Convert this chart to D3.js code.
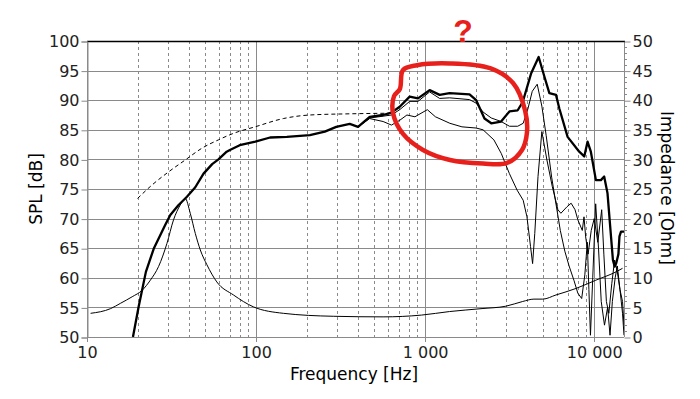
<!DOCTYPE html>
<html>
<head>
<meta charset="utf-8">
<script src="https://cdn.jsdelivr.net/npm/d3@7"></script>
<style>
	body { margin: 0; background: #fff; }
	svg { display: block; }
	.tickLabel text { font-family: "DejaVu Sans", Verdana, sans-serif; font-size: 16px; fill: #222; }
	.axisTitle { font-family: "DejaVu Sans", Verdana, sans-serif; font-size: 17px; fill: #000; }
</style>
</head>
<body>
<svg id="SvgSpl"></svg>
<script>
// ----------------------------------------------------------  Data -----------------------------------------------------------------------  //
// #region data

	// ------ Axis ticks
	var splTicks = [50, 55, 60, 65, 70, 75, 80, 85, 90, 95, 100];
	var ohmTicks = [0, 5, 10, 15, 20, 25, 30, 35, 40, 45, 50];
	var freqDecades = [10, 100, 1000, 10000];
	var freqLabels = ["10", "100", "1 000", "10 000"];

	// ------ Main SPL curve (thick) : Hz, dB
	var freqMain = [18.7, 20.2, 22.3, 24.8, 29, 31.1, 34.8, 39, 43.7, 48.9, 55, 59.9, 67, 70, 80, 99, 121, 152, 208, 255, 298, 358,
		401, 470, 564, 632, 707, 810, 907, 1063, 1218, 1395, 1830, 2004, 2244, 2460, 2813, 3152, 3527, 3776, 4231, 4692,
		5070, 5427, 5943, 6217, 6960, 8154, 8730, 9130, 9550, 10230, 10950, 11450, 11980, 12400, 12900, 13200, 13500, 13900, 14100, 14400, 15000];
	var splMain = [50, 55.1, 61, 64.9, 68.9, 70.6, 72.3, 73.7, 75.3, 77.6, 79.2, 80, 81.3, 81.6, 82.4, 83, 83.7, 83.8, 84.1, 84.7, 85.5, 86,
		85.5, 87.2, 87.5, 87.9, 88.9, 90.6, 90.3, 91.7, 90.9, 91.2, 91, 90, 86.9, 86.1, 86.4, 88.1, 88.3, 89.7, 94.5, 97.3,
		94, 91.2, 90.9, 88.6, 83.8, 81.3, 80.5, 83, 81.3, 76.5, 76.5, 77.1, 74.3, 69, 63, 61.9, 62.5, 64, 67, 67.8, 67.8];

	// ------ Second SPL curve (thin, close to main)
	var freqB = [401, 470, 564, 632, 707, 810, 907, 1063, 1218, 1395, 1830, 2004, 2200, 2460, 2813, 3152, 3527, 3800, 4050, 4300, 4600,
		4900, 5200, 5600, 5900, 6300, 6700, 7100, 7600, 8000, 8430, 8800, 9100, 9300, 9500, 9800, 10200, 10600, 11000, 11500,
		12000, 12400, 12800, 13300, 13700, 14200, 14700, 15000];
	var splB = [85.5, 87, 87.3, 87.5, 88.4, 89.8, 89.8, 91.4, 90.3, 90.4, 90.1, 89.5, 88, 87, 86.4, 85.6, 85.6, 86.1, 88.5, 91.5, 92.7,
		89, 84, 77, 73, 68, 64.5, 62, 59.5, 57.4, 56.5, 60.5, 66, 58, 50.3, 60, 72.5, 65, 56, 52,
		55, 50.3, 56, 60, 62, 58, 54, 50.3];

	// ------ Third SPL curve (thin, lower)
	var freqC = [401, 470, 564, 632, 707, 780, 870, 1030, 1150, 1400, 1650, 2000, 2200, 2550, 2820, 3150, 3500, 3800, 4000, 4200, 4320,
		4450, 4650, 4900, 5250, 5650, 6100, 6350, 6900, 7300, 7700, 8000, 8500, 8700, 8900, 9200, 9600, 10000, 10500, 11070,
		11400, 11800, 12200, 12700, 13200, 13700, 14200, 14700, 15000];
	var splC = [85.5, 86.9, 86.4, 85.8, 86.6, 87.5, 87.2, 88.4, 87.2, 86.1, 85.5, 85.3, 85, 83.3, 81, 77.6, 74.8, 73.1, 70.3, 65.3, 62.4,
		67.5, 77.1, 84.7, 79.9, 75.4, 71.5, 70.9, 72, 72.6, 71.5, 69.8, 68, 70.3, 66.9, 64, 68, 70, 66, 71.5,
		64, 56, 54, 59, 63, 61, 58, 56, 52];

	// ------ Simulated SPL (dashed)
	var freqSim = [19.9, 24.3, 30.4, 38.1, 47.9, 59.9, 73.5, 98.6, 145, 208, 358, 630];
	var splSim = [73.4, 75.7, 77.9, 79.9, 81.9, 83.3, 84.4, 85.5, 86.9, 87.5, 87.7, 87.8];

	// ------ Impedance : Hz, Ohm
	var freqImp = [10.5, 13.8, 15.8, 18.5, 21.2, 23.7, 26.5, 29.7, 32.5, 35.6, 38.1, 40.8, 43.7, 46.8, 51.2, 58.6, 73.5, 96.3, 145, 286,
		564, 950, 1395, 2170, 3000, 3776, 4400, 4960, 5940, 7800, 10230, 13450, 14700];
	var ohmImp = [4.0, 4.8, 5.7, 6.8, 7.9, 9.6, 11.9, 15.8, 19.8, 22.3, 23.4, 20.9, 17.5, 14.7, 12.2, 9.3, 7.1, 5.1, 4.0, 3.5,
		3.4, 3.7, 4.3, 4.8, 5.2, 6.0, 6.4, 6.4, 7.1, 8.2, 9.6, 11.0, 11.6];

	// ------ Red hand drawn mark (Hz, dB)
	var freqMark = [740, 895, 1403, 2420, 3310, 3897, 4000, 3740, 3050, 2198, 1403, 971, 740, 646, 655, 709];
	var splMark = [95.1, 95.9, 96.2, 95.4, 92.9, 88.3, 84.5, 81.6, 79.4, 79.3, 79.9, 81.6, 84.3, 87.8, 90.7, 91.9];

// #endregion

// ----------------------------------------------------------  Chart -----------------------------------------------------------------------  //
// #region chart

	var W = 700, H = 399;
	var plot = {left: 87, right: 624, top: 41, bottom: 337};

	var xScale = d3.scaleLog().domain([10, 15000]).range([plot.left, plot.right]);
	var yScale = d3.scaleLinear().domain([50, 100]).range([plot.bottom, plot.top]);
	var zScale = d3.scaleLinear().domain([0, 50]).range([plot.bottom, plot.top]);

	var svg = d3.select("#SvgSpl").attr("width", W).attr("height", H);

	svg.append("defs").append("clipPath").attr("id", "plotClip")
		.append("rect")
		.attr("x", plot.left).attr("y", plot.top - 2)
		.attr("width", plot.right - plot.left).attr("height", plot.bottom - plot.top + 2);

	// minor frequencies 2..9 of each decade
	var freqMinor = [];
	freqDecades.forEach(function(d) {
		for (var k = 2; k <= 9; k++) {
			if (d * k < 15000) freqMinor.push(d * k);
		}
	});

	// ------- Grid
	var grid = svg.append("g");
	grid.selectAll(".hgrid").data(splTicks).enter().append("line")
		.attr("x1", plot.left).attr("x2", plot.right)
		.attr("y1", d => Math.round(yScale(d)) + 0.5).attr("y2", d => Math.round(yScale(d)) + 0.5)
		.style("stroke", "#8a8a8a").style("stroke-width", 1);
	grid.selectAll(".vminor").data(freqMinor).enter().append("line")
		.attr("x1", d => Math.round(xScale(d)) + 0.5).attr("x2", d => Math.round(xScale(d)) + 0.5)
		.attr("y1", plot.top).attr("y2", plot.bottom + 4)
		.style("stroke", "#8a8a8a").style("stroke-width", 1).style("stroke-dasharray", "3,3");
	grid.selectAll(".vmajor").data(freqDecades).enter().append("line")
		.attr("x1", d => Math.round(xScale(d)) + 0.5).attr("x2", d => Math.round(xScale(d)) + 0.5)
		.attr("y1", plot.top).attr("y2", plot.bottom + 5)
		.style("stroke", "#8a8a8a").style("stroke-width", 1);
	// right frame
	grid.append("line")
		.attr("x1", plot.right + 0.5).attr("x2", plot.right + 0.5)
		.attr("y1", plot.top).attr("y2", plot.bottom)
		.style("stroke", "#8a8a8a");
	// top frame (black)
	grid.append("line")
		.attr("x1", plot.left).attr("x2", plot.right + 1)
		.attr("y1", plot.top + 0.5).attr("y2", plot.top + 0.5)
		.style("stroke", "#000").style("stroke-width", 1.3);

	// ------- Axes
	var yAxis = d3.axisLeft(yScale).tickValues(splTicks).tickSize(6).tickPadding(2);
	svg.append("g").attr("class", "tickLabel")
		.attr("transform", "translate(" + (plot.left + 0.5) + ",0.5)")
		.call(yAxis)
		.call(g => g.select(".domain").style("stroke", "#8a8a8a"))
		.call(g => g.selectAll(".tick line").style("stroke", "#8a8a8a"));

	var zAxis = d3.axisRight(zScale).tickValues(ohmTicks).tickSize(6).tickPadding(2);
	svg.append("g").attr("class", "tickLabel")
		.attr("transform", "translate(" + (plot.right + 0.5) + ",0.5)")
		.call(zAxis)
		.call(g => g.select(".domain").remove())
		.call(g => g.selectAll(".tick line").style("stroke", "#8a8a8a"));
	// minor impedance ticks every 1 Ohm
	svg.append("g").selectAll("line").data(d3.range(0, 51).filter(v => v % 5 != 0)).enter().append("line")
		.attr("x1", plot.right).attr("x2", plot.right + 3)
		.attr("y1", d => Math.round(zScale(d)) + 0.5).attr("y2", d => Math.round(zScale(d)) + 0.5)
		.style("stroke", "#8a8a8a");

	var xAxis = d3.axisBottom(xScale).tickValues(freqDecades).tickSize(0).tickPadding(10)
		.tickFormat((d, i) => freqLabels[i]);
	svg.append("g").attr("class", "tickLabel")
		.attr("transform", "translate(0," + plot.bottom + ")")
		.call(xAxis)
		.call(g => g.select(".domain").remove());

	// ------- Axis titles
	svg.append("text").attr("class", "axisTitle")
		.attr("x", 354).attr("y", 380)
		.style("text-anchor", "middle")
		.text("Frequency [Hz]");
	svg.append("text").attr("class", "axisTitle")
		.attr("transform", "translate(42,189) rotate(-90)")
		.style("text-anchor", "middle")
		.text("SPL [dB]");
	svg.append("text").attr("class", "axisTitle")
		.attr("transform", "translate(661,188) rotate(90)")
		.style("text-anchor", "middle")
		.text("Impedance [Ohm]");

	// ------- Curves
	var curves = svg.append("g").attr("clip-path", "url(#plotClip)");
	var splLine = d3.line().x(d => xScale(d[0])).y(d => yScale(d[1]));
	var smoothLine = d3.line().x(d => xScale(d[0])).y(d => yScale(d[1])).curve(d3.curveMonotoneX);
	var ohmLine = d3.line().x(d => xScale(d[0])).y(d => zScale(d[1])).curve(d3.curveMonotoneX);

	curves.append("path")
		.datum(d3.zip(freqImp, ohmImp))
		.attr("d", ohmLine)
		.style("fill", "none").style("stroke", "#000").style("stroke-width", 1);
	curves.append("path")
		.datum(d3.zip(freqSim, splSim))
		.attr("d", smoothLine)
		.style("fill", "none").style("stroke", "#000").style("stroke-width", 1).style("stroke-dasharray", "4,3");
	curves.append("path")
		.datum(d3.zip(freqC, splC))
		.attr("d", splLine)
		.style("fill", "none").style("stroke", "#000").style("stroke-width", 1);
	curves.append("path")
		.datum(d3.zip(freqB, splB))
		.attr("d", splLine)
		.style("fill", "none").style("stroke", "#000").style("stroke-width", 1);
	curves.append("path")
		.datum(d3.zip(freqMain, splMain))
		.attr("d", splLine)
		.style("fill", "none").style("stroke", "#000").style("stroke-width", 2.3)
		.style("stroke-linejoin", "round");

	// ------- Red annotation
	svg.append("path")
		.datum(d3.zip(freqMark, splMark))
		.attr("d", d3.line().x(d => xScale(d[0])).y(d => yScale(d[1])).curve(d3.curveCatmullRomClosed))
		.style("fill", "none").style("stroke", "#e8201c").style("stroke-width", 4.5)
		.style("stroke-linecap", "round").style("stroke-linejoin", "round");
	svg.append("text")
		.attr("x", 463).attr("y", 42)
		.style("text-anchor", "middle")
		.style("font-family", "'Liberation Sans', Arial, sans-serif")
		.style("font-weight", "bold").style("font-size", "32px")
		.style("fill", "#e8201c")
		.text("?");

// #endregion
</script>
</body>
</html>
